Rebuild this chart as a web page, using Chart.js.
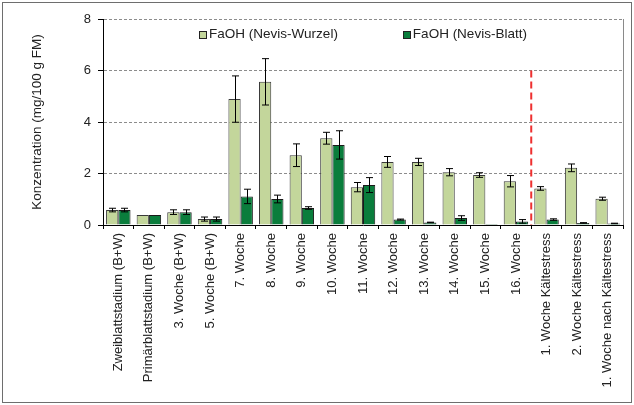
<!DOCTYPE html>
<html>
<head>
<meta charset="utf-8">
<script src="https://cdn.jsdelivr.net/npm/chart.js@4"></script>
<style>
  html, body { margin: 0; padding: 0; background: #fff; }
  canvas { display: block; }
</style>
</head>
<body>
<canvas id="faohChart" width="634" height="405"></canvas>
<script>
const categories = [
  'Zweiblattstadium (B+W)', 'Primärblattstadium (B+W)', '3. Woche (B+W)', '5. Woche (B+W)',
  '7. Woche', '8. Woche', '9. Woche', '10. Woche', '11. Woche', '12. Woche', '13. Woche',
  '14. Woche', '15. Woche', '16. Woche',
  '1. Woche Kältestress', '2. Woche Kältestress', '1. Woche nach Kältestress'
];
const wurzel    = [0.58, 0.39, 0.50, 0.23, 4.89, 5.56, 2.71, 3.37, 1.47, 2.45, 2.45, 2.05, 1.94, 1.70, 1.42, 2.22, 1.02];
const wurzelErr = [0.07, 0,    0.09, 0.08, 0.90, 0.90, 0.44, 0.23, 0.18, 0.21, 0.14, 0.14, 0.09, 0.22, 0.07, 0.15, 0.06];
const blatt     = [0.58, 0.39, 0.50, 0.23, 1.11, 1.01, 0.66, 3.11, 1.55, 0.21, 0.10, 0.27, 0.04, 0.14, 0.21, 0.08, 0.06];
const blattErr  = [0.07, 0,    0.09, 0.08, 0.28, 0.15, 0.05, 0.55, 0.29, 0.02, 0.01, 0.09, 0,    0.07, 0.03, 0.01, 0.01];
const yTicks = [0, 2, 4, 6, 8];
const seriesNames = ['FaOH (Nevis-Wurzel)', 'FaOH (Nevis-Blatt)'];

// cold stress starts with this category; dashed marker reaches up to this value
const coldStartIndex = 14;
const markerTop = 6;

const FONT = '"Liberation Sans", Arial, sans-serif';

// white page + thin grey frame around everything
const framePlugin = {
  id: 'frame',
  beforeDraw(chart) {
    const ctx = chart.ctx;
    ctx.save();
    ctx.fillStyle = '#fff';
    ctx.fillRect(0, 0, chart.width, chart.height);
    ctx.strokeStyle = '#6e6e6e';
    ctx.lineWidth = 1;
    ctx.strokeRect(2.5, 2.5, chart.width - 5, chart.height - 5);
    ctx.restore();
  },
  afterDraw(chart) {
    const { ctx, chartArea } = chart;
    ctx.save();
    ctx.strokeStyle = '#8a8a8a';
    ctx.lineWidth = 1;
    ctx.beginPath();
    ctx.moveTo(Math.round(chartArea.right) + 0.5, chartArea.top);
    ctx.lineTo(Math.round(chartArea.right) + 0.5, chartArea.bottom);
    ctx.stroke();
    ctx.restore();
  }
};

// standard deviation whiskers
const errorBarPlugin = {
  id: 'errorBars',
  afterDatasetsDraw(chart) {
    const ctx = chart.ctx;
    const y = chart.scales.y;
    const errs = [wurzelErr, blattErr];
    ctx.save();
    ctx.strokeStyle = '#000';
    ctx.lineWidth = 1;
    chart.data.datasets.forEach((ds, di) => {
      const meta = chart.getDatasetMeta(di);
      meta.data.forEach((bar, i) => {
        const e = errs[di][i];
        if (!e) return;
        const v = ds.data[i];
        const x = Math.round(bar.x) + 0.5;
        const yHi = y.getPixelForValue(v + e);
        const yLo = y.getPixelForValue(Math.max(0, v - e));
        ctx.beginPath();
        ctx.moveTo(x, yHi); ctx.lineTo(x, yLo);
        ctx.moveTo(x - 3.5, yHi); ctx.lineTo(x + 3.5, yHi);
        ctx.moveTo(x - 3.5, yLo); ctx.lineTo(x + 3.5, yLo);
        ctx.stroke();
      });
    });
    ctx.restore();
  }
};

// red dashed separator before the cold stress phase
const dividerPlugin = {
  id: 'divider',
  afterDatasetsDraw(chart) {
    const { ctx, scales: { x, y } } = chart;
    const px = (x.getPixelForValue(coldStartIndex - 1) + x.getPixelForValue(coldStartIndex)) / 2;
    ctx.save();
    ctx.strokeStyle = '#ee3030';
    ctx.lineWidth = 2;
    ctx.setLineDash([7, 4]);
    ctx.beginPath();
    ctx.moveTo(px, y.getPixelForValue(markerTop));
    ctx.lineTo(px, y.getPixelForValue(0));
    ctx.stroke();
    ctx.restore();
  }
};

// legend sits inside the plot, under the top edge
const innerLegendPlugin = {
  id: 'innerLegend',
  afterDraw(chart) {
    const { ctx, chartArea } = chart;
    const box = 7, gap = 3, spacing = 65;
    ctx.save();
    ctx.font = '13.5px ' + FONT;
    ctx.textBaseline = 'middle';
    const items = chart.data.datasets.map(ds => ({
      label: ds.label, color: ds.backgroundColor, w: box + gap + ctx.measureText(ds.label).width
    }));
    const total = items.reduce((s, it) => s + it.w, 0) + spacing * (items.length - 1);
    let x = (chartArea.left + chartArea.right) / 2 - total / 2;
    const cy = chartArea.top + 15;
    items.forEach(it => {
      ctx.fillStyle = it.color;
      ctx.fillRect(Math.round(x) + 0.5, Math.round(cy - box / 2) + 0.5, box, box);
      ctx.strokeStyle = '#222';
      ctx.lineWidth = 1;
      ctx.strokeRect(Math.round(x) + 0.5, Math.round(cy - box / 2) + 0.5, box, box);
      ctx.fillStyle = '#222';
      ctx.fillText(it.label, x + box + gap, cy);
      x += it.w + spacing;
    });
    ctx.restore();
  }
};

new Chart(document.getElementById('faohChart'), {
  type: 'bar',
  data: {
    labels: categories,
    datasets: [
      { label: seriesNames[0], data: wurzel, backgroundColor: '#c3d69b', borderColor: '#3a3a3a', borderWidth: 1,
        categoryPercentage: 0.8, barPercentage: 1.0 },
      { label: seriesNames[1], data: blatt, backgroundColor: '#0a7d3c', borderColor: '#1a1a1a', borderWidth: 1,
        categoryPercentage: 0.8, barPercentage: 1.0 }
    ]
  },
  options: {
    responsive: false,
    animation: false,
    layout: { padding: { top: 19, right: 11, left: 0, bottom: 0 } },
    plugins: {
      legend: { display: false },
      tooltip: { enabled: false }
    },
    scales: {
      x: {
        grid: { display: true, drawOnChartArea: false, offset: true, tickLength: 4, tickColor: '#000' },
        border: { color: '#000', width: 1 },
        ticks: {
          autoSkip: false, maxRotation: 90, minRotation: 90, padding: 4,
          color: '#222', font: { family: FONT, size: 13 }
        },
        afterFit(scale) { scale.height = 180; }
      },
      y: {
        min: 0, max: 8,
        afterBuildTicks(scale) { scale.ticks = yTicks.map(v => ({ value: v })); },
        grid: { color: '#8c8c8c', tickColor: '#000', tickLength: 5, lineWidth: 1 },
        border: { color: '#000', width: 1, dash: [3, 2] },
        ticks: { color: '#222', padding: 7, font: { family: FONT, size: 13 } },
        title: {
          display: true, text: 'Konzentration (mg/100 g FM)', color: '#222',
          font: { family: FONT, size: 13.5 }, padding: { top: 29, bottom: 0 }
        },
        afterFit(scale) { scale.width = 103; }
      }
    }
  },
  plugins: [framePlugin, errorBarPlugin, dividerPlugin, innerLegendPlugin]
});
</script>
</body>
</html>
